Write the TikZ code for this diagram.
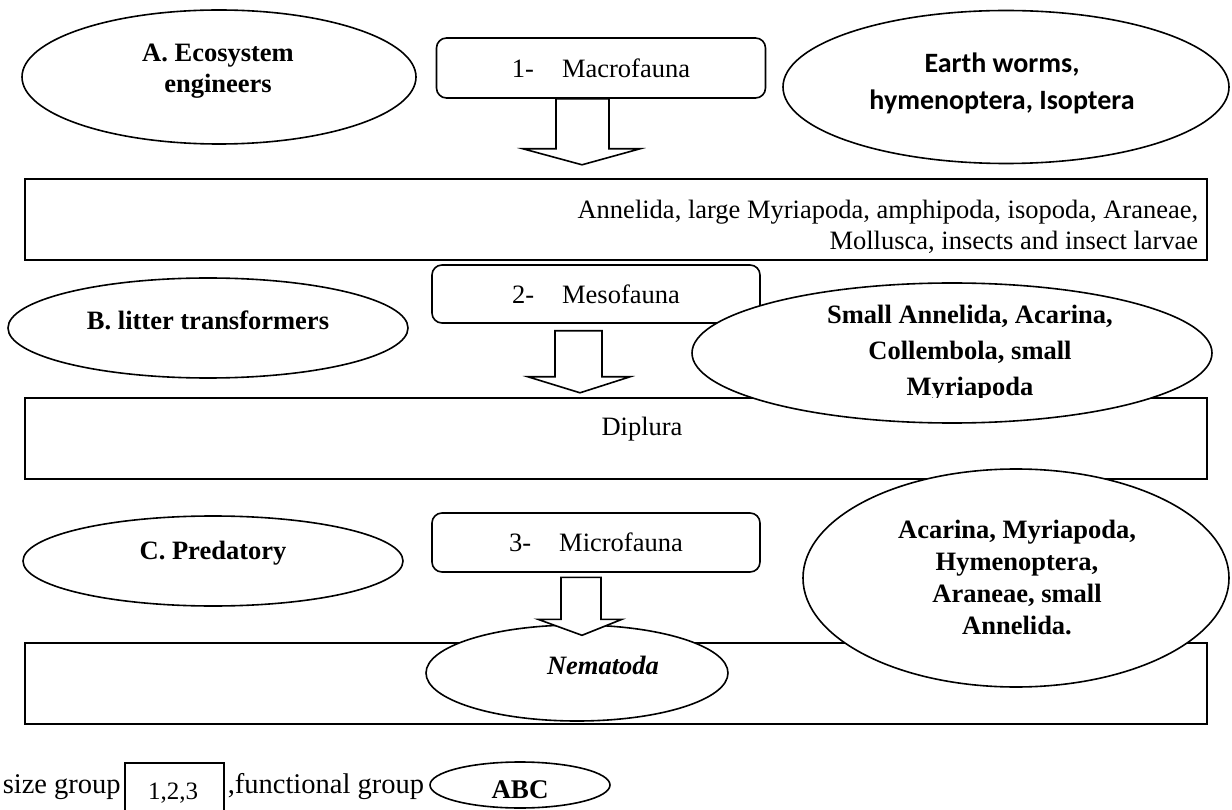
\documentclass[tikz,border=0pt]{standalone}
\usepackage{fontspec}
\setmainfont{Liberation Serif}
\newfontfamily\calibrifont{Carlito}
\usetikzlibrary{shapes.geometric,calc}
\begin{document}
\begin{tikzpicture}[x=1pt,y=-1pt,line width=1.6pt,
  oval/.style={draw,ellipse,fill=white,inner sep=0pt},
  sizebox/.style={draw,rounded corners=10pt,fill=white,inner sep=0pt},
  band/.style={draw,fill=white,inner sep=0pt},
  blockarrow/.style={draw,fill=white,line join=miter},
  lbl/.style={font=\fontsize{26.5}{31}\selectfont\bfseries,align=center,inner sep=0pt},
  txt/.style={font=\fontsize{26.5}{31}\selectfont,inner sep=0pt},
  legtxt/.style={font=\fontsize{28.5}{32}\selectfont,inner sep=0pt}]
\useasboundingbox (0,0) rectangle (1232,810);
% ---------- row 1
\node[oval,minimum width=394,minimum height=134] (eA) at (219,77) {};
\node[lbl] (tA) at (218,71) {A. Ecosystem\\engineers};
\node[sizebox,minimum width=329,minimum height=60,txt] (m1) at (601,68) {1-\hspace{28pt}Macrofauna};
\node[oval,minimum width=446,minimum height=153] (eE) at (1006,87) {};
\node[font=\calibrifont\fontsize{28}{37}\selectfont\bfseries,align=center,inner sep=0pt] (tE) at (1002,83) {Earth worms,\\hymenoptera, Isoptera};
\draw[blockarrow] ($(m1.south)+(-45,0)$) -- ++(0,50) -- ++(-33,0) -- ($(m1.south)+(-19,66)$) -- ($(m1.south)+(39,50)$) -- ++(-31,0) -- ($(m1.south)+(8,0)$) -- cycle;
\node[band,minimum width=1182,minimum height=81,anchor=north west] (r1) at (24,178) {};
\node[txt,align=right,anchor=east] (t1) at (1199,227) {Annelida, large Myriapoda, amphipoda, isopoda, Araneae,\\Mollusca, insects and insect larvae};
% ---------- row 2
\node[oval,minimum width=400,minimum height=100] (eB) at (208,328) {};
\node[lbl] (tB) at (208,320) {B. litter transformers};
\node[sizebox,minimum width=328,minimum height=58,txt] (m2) at (596,294) {2-\hspace{28pt}Mesofauna};
\draw[blockarrow] ($(m2.south)+(-41,7)$) -- ++(0,46) -- ++(-27,0) -- ($(m2.south)+(-16,69)$) -- ($(m2.south)+(34,53)$) -- ++(-28,0) -- ($(m2.south)+(6,7)$) -- cycle;
\node[band,minimum width=1182,minimum height=81,anchor=north west] (r2) at (24,397) {};
\node[txt] (t2) at (642,429) {Diplura};
\node[oval,minimum width=520,minimum height=140] (eS) at (952,353) {};
\begin{scope}
\clip (700,285) rectangle (1210,397);
\node[lbl,font=\fontsize{26.5}{36}\selectfont\bfseries] (tS) at (970,353) {Small Annelida, Acarina,\\Collembola, small\\Myriapoda};
\end{scope}
% ---------- row 3
\node[oval,minimum width=380,minimum height=90] (eC) at (213,561) {};
\node[lbl] (tC) at (213,553) {C. Predatory};
\node[sizebox,minimum width=328,minimum height=59,txt] (m3) at (596,542.5) {3-\hspace{28pt}Microfauna};
\node[band,minimum width=1182,minimum height=81,anchor=north west] (r3) at (24,642) {};
\node[oval,minimum width=426,minimum height=218] (eP) at (1016,578) {};
\node[lbl,font=\fontsize{26.5}{32}\selectfont\bfseries] (tP) at (1017,577) {Acarina, Myriapoda,\\Hymenoptera,\\Araneae, small\\Annelida.};
\node[oval,minimum width=302,minimum height=96] (eN) at (577,673) {};
\node[lbl,font=\fontsize{26.5}{31}\selectfont\bfseries\itshape] (tN) at (603,665) {Nematoda};
\draw[blockarrow] ($(m3.south)+(-35,4.5)$) -- ++(0,42) -- ++(-23,0) -- ($(m3.south)+(-14,62.5)$) -- ($(m3.south)+(26,46.5)$) -- ++(-21,0) -- ($(m3.south)+(5,4.5)$) -- cycle;
% ---------- legend
\node[legtxt,anchor=base west] (sg) at (2,793) {size group};
\node[draw,minimum width=99,minimum height=52,anchor=north west,inner sep=0pt] (lb) at (124,762) {};
\node[txt,font=\fontsize{25}{28}\selectfont] (lbt) at (173,793) {1,2,3};
\node[legtxt,anchor=base west] (fg) at (227,793) {,functional group};
\node[oval,minimum width=180,minimum height=46] (la) at (520,785) {};
\node[lbl,font=\fontsize{27}{31}\selectfont\bfseries] (lat) at (520,790) {ABC};
\end{tikzpicture}
\end{document}
